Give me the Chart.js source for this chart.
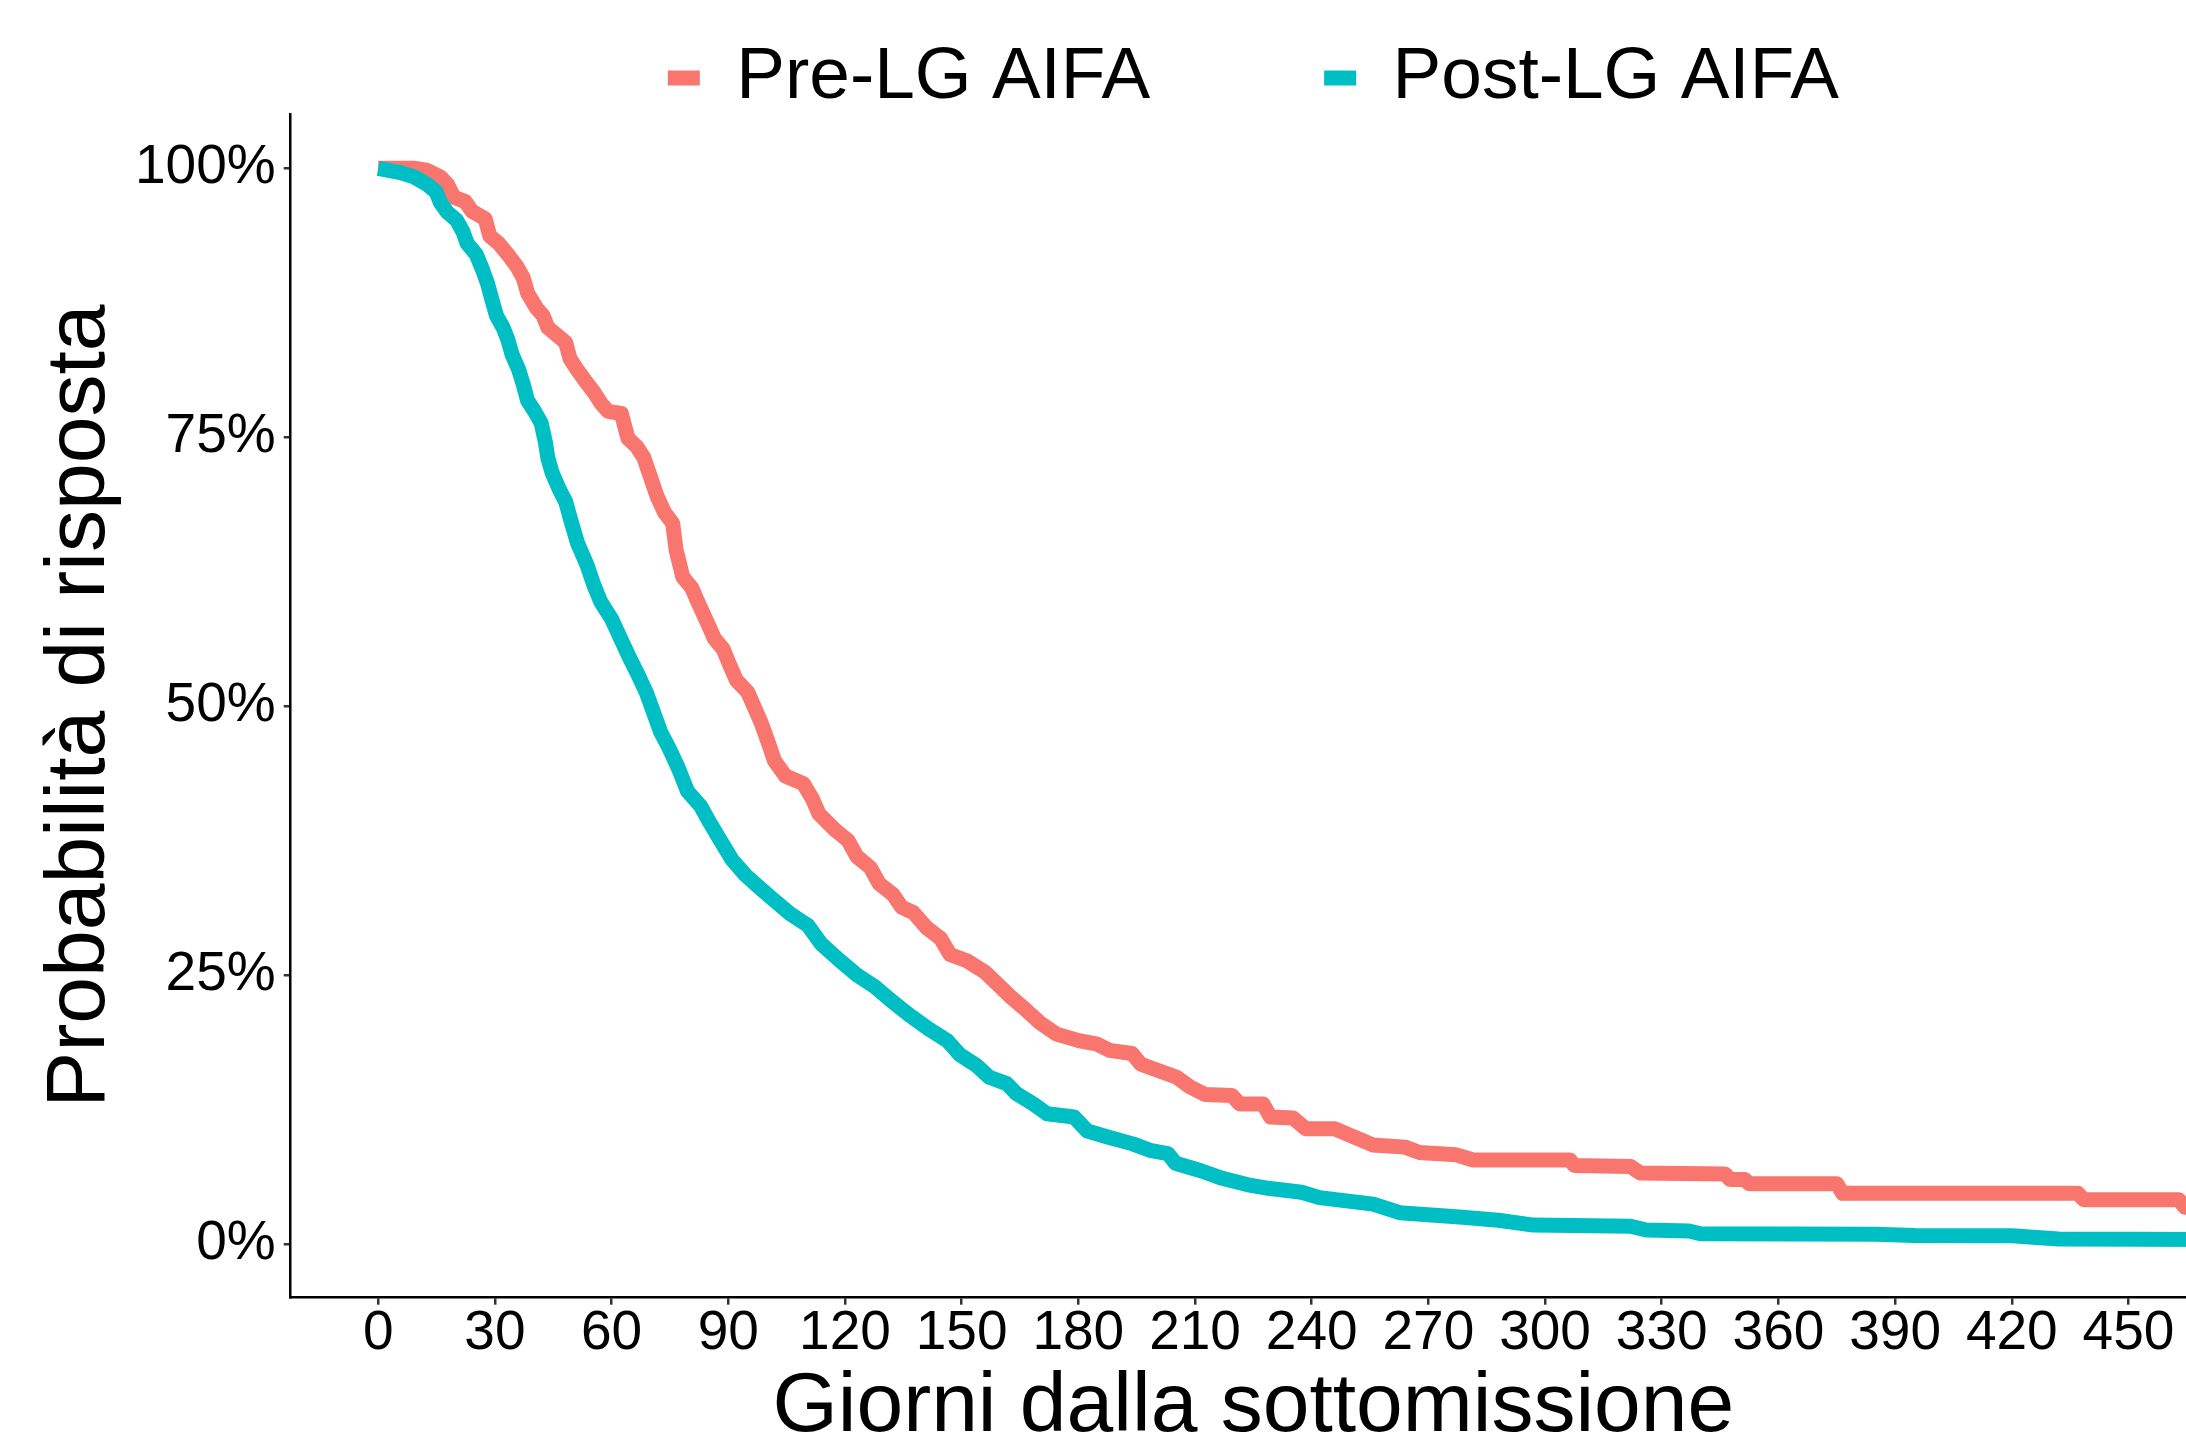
<!DOCTYPE html>
<html>
<head>
<meta charset="utf-8">
<script src="https://cdn.jsdelivr.net/npm/chart.js@4.4.0/dist/chart.umd.min.js"></script>
<style>
  html, body { margin: 0; padding: 0; background: #fff; overflow: hidden; }
  canvas { display: block; }
</style>
</head>
<body>
<canvas id="chart" width="2216" height="1460"></canvas>
<script>
// Kaplan-Meier style curves (days, % still waiting)
const seriesLabels = ['Pre-LG AIFA', 'Post-LG AIFA'];

const preDays = [0, 9.5, 12.6, 16, 17.8, 19.5, 22.4, 24.1, 27.5, 28.7, 31, 33.3, 35.6, 37.3, 38.4, 40.7, 42.4, 43.6, 45.9, 48.2,
  49.3, 51.1, 53.3, 55.6, 57.4, 59.1, 62.5, 64.2, 66.5, 68.3, 70, 71.7, 73.6, 75.7, 76.6, 78.3, 80.6, 82.4, 84.7, 86.4,
  88.7, 90.4, 92.1, 95, 96.7, 98.4, 100.2, 101.9, 104.7, 109.3, 111.6, 113.3, 117.4, 120.8, 123.1, 126.5, 128.8, 132.3, 134.6, 137.6,
  141, 144.6, 147, 151.5, 155.9, 159.4, 162.8, 166.4, 170, 174.4, 180.1, 184.6, 188, 193.8, 196.1, 200.7, 205.3, 208.7, 212.5, 219.5,
  221.5, 227.5, 229.4, 235.2, 238.5, 246, 250.5, 255.7, 264, 267.7, 277, 281.5, 306.4, 307.5, 322, 324.4, 346.3, 347.5, 351.3, 352.5,
  375, 376.5, 437, 438.5, 463, 464.5, 472];
const prePct = [100, 100, 99.8, 99.2, 98.5, 97.3, 96.9, 96.0, 95.3, 93.7, 93.0, 92.0, 90.9, 89.8, 88.4, 87.0, 86.3, 85.2, 84.5, 83.8,
  82.3, 81.3, 80.2, 79.1, 78.1, 77.4, 77.2, 74.9, 74.1, 73.1, 71.3, 69.5, 68.0, 67.0, 64.5, 62.0, 61.0, 59.5, 57.7, 56.3,
  55.3, 53.8, 52.4, 51.3, 49.9, 48.5, 46.7, 44.9, 43.5, 42.8, 41.4, 40.0, 38.5, 37.5, 36.0, 35.0, 33.5, 32.5, 31.3, 30.8,
  29.4, 28.4, 26.9, 26.3, 25.3, 24.1, 22.9, 21.8, 20.6, 19.5, 18.9, 18.6, 18.0, 17.7, 16.7, 16.1, 15.5, 14.6, 13.9, 13.8,
  13.0, 13.0, 11.8, 11.7, 10.7, 10.7, 10.0, 9.2, 9.0, 8.5, 8.3, 7.8, 7.8, 7.3, 7.2, 6.6, 6.5, 6.0, 6.0, 5.6,
  5.6, 4.7, 4.7, 4.1, 4.1, 3.4, 3.4];

const postDays = [0, 5.7, 9.2, 12.6, 14.9, 16, 17.8, 20.1, 21.8, 22.9, 25.2, 26.9, 28.1, 29.3, 30.4, 32.1, 33.3, 34.4, 36.1, 37.3,
  38.4, 40.2, 41.9, 43, 43.6, 44.7, 46.5, 48.2, 49.5, 51.2, 53.7, 55.4, 57.2, 60, 62.3, 64.6, 66.7, 69, 70.9, 72.6,
  74.9, 77.2, 79.5, 82.9, 85.2, 87.5, 91, 94.4, 97.8, 101.3, 105.9, 110.5, 113.9, 118.5, 123.1, 127.7, 132.3, 136.5, 141.5, 146.3,
  149.5, 153.8, 157.1, 161.6, 164, 168.5, 172, 178.9, 182.3, 188, 194, 198.4, 203, 205, 211.5, 217, 223.6, 228.2, 237.4, 242,
  255.8, 262.6, 278, 288, 297, 322, 326, 337, 340, 385, 395, 420, 432, 472];
const postPct = [100, 99.6, 99.2, 98.5, 97.8, 96.8, 95.9, 95.2, 94.1, 93.0, 92.0, 90.5, 89.3, 87.7, 86.3, 85.2, 84.1, 82.7, 81.3, 79.9,
  78.4, 77.4, 76.3, 74.5, 73.1, 71.7, 70.2, 69.0, 67.3, 65.2, 63.1, 61.3, 59.7, 58.1, 56.3, 54.5, 53.0, 51.2, 49.3, 47.6,
  46.0, 44.2, 42.1, 40.7, 39.2, 37.8, 35.7, 34.3, 33.2, 32.1, 30.7, 29.6, 27.9, 26.4, 25.0, 23.9, 22.5, 21.3, 20.0, 18.9,
  17.6, 16.6, 15.5, 14.9, 14.0, 13.0, 12.1, 11.8, 10.5, 9.9, 9.3, 8.7, 8.4, 7.5, 6.8, 6.1, 5.5, 5.2, 4.8, 4.3,
  3.7, 2.9, 2.5, 2.2, 1.75, 1.65, 1.3, 1.2, 0.95, 0.9, 0.78, 0.75, 0.45, 0.4];

const xTicks = [0, 30, 60, 90, 120, 150, 180, 210, 240, 270, 300, 330, 360, 390, 420, 450];
const yTicks = [0, 25, 50, 75, 100];

const toPoints = (xs, ys) => xs.map((x, i) => ({ x: x, y: ys[i] }));

Chart.defaults.font.family = '"Liberation Sans", Arial, Helvetica, sans-serif';
Chart.defaults.color = '#000';

const ctx = document.getElementById('chart').getContext('2d');
const myChart = new Chart(ctx, {
  type: 'line',
  data: {
    datasets: [{
      label: seriesLabels[0],
      data: toPoints(preDays, prePct),
      borderColor: '#F8766D',
      backgroundColor: '#F8766D',
      borderWidth: 15,
      borderJoinStyle: 'round',
      pointRadius: 0,
      order: 2
    }, {
      label: seriesLabels[1],
      data: toPoints(postDays, postPct),
      borderColor: '#00BFC4',
      backgroundColor: '#00BFC4',
      borderWidth: 15,
      borderJoinStyle: 'round',
      pointRadius: 0,
      order: 1
    }]
  },
  options: {
    responsive: false,
    animation: false,
    events: [],
    layout: { padding: { top: -132.5, left: 0, right: 0, bottom: 0 } },
    plugins: {
      tooltip: { enabled: false },
      legend: {
        position: 'top',
        fullSize: false,
        maxHeight: 247,
        labels: {
          boxWidth: 32,
          boxHeight: 15,
          padding: 174,
          color: '#000',
          font: { size: 73 },
          sort: (a, b) => a.datasetIndex - b.datasetIndex,
          generateLabels: chart => Chart.defaults.plugins.legend.labels.generateLabels(chart)
            .map(item => Object.assign(item, { lineWidth: 0 }))
        }
      }
    },
    scales: {
      x: {
        type: 'linear',
        min: -22.5,
        max: 472.5,
        afterBuildTicks: s => { s.ticks = xTicks.map(v => ({ value: v })); },
        afterFit: s => { s.height = 162.3; },
        grid: { drawOnChartArea: false, tickLength: 7, lineWidth: 2.5, color: '#333' },
        border: { color: '#000', width: 2.5 },
        ticks: { font: { size: 55, lineHeight: 1 }, padding: 2, maxRotation: 0, autoSkip: false, color: '#000' },
        title: {
          display: true,
          text: 'Giorni dalla sottomissione',
          color: '#000',
          font: { size: 84, lineHeight: 1 },
          padding: { top: 0, bottom: 10 }
        }
      },
      y: {
        min: -5,
        max: 105,
        afterBuildTicks: s => { s.ticks = yTicks.map(v => ({ value: v })); },
        afterFit: s => { s.width = 290.7; },
        grid: { drawOnChartArea: false, tickLength: 7, lineWidth: 2.5, color: '#333' },
        border: { color: '#000', width: 2.5 },
        ticks: { font: { size: 55 }, padding: 8, color: '#000', callback: v => v + '%' },
        title: {
          display: true,
          text: 'Probabilità di risposta',
          color: '#000',
          font: { size: 84, lineHeight: 1 },
          padding: { top: 39, bottom: 0 }
        }
      }
    }
  }
});
</script>
</body>
</html>
